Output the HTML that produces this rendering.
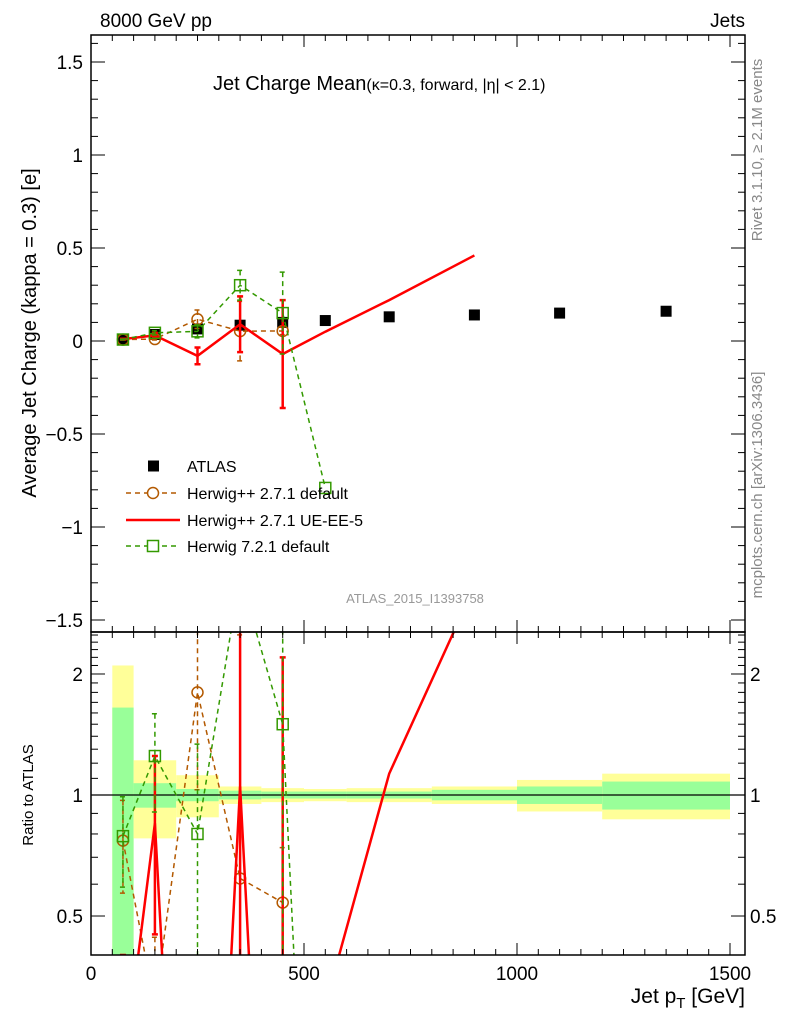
<!DOCTYPE html>
<html><head><meta charset="utf-8"><style>
body{margin:0;background:#fff;overflow:hidden;}
svg{display:block;}
svg text{font-family:"Liberation Sans",sans-serif;}
</style></head><body>
<svg id="c" width="786" height="1024" viewBox="0 0 786 1024" xmlns="http://www.w3.org/2000/svg">
<defs>
<clipPath id="cm"><rect x="91" y="35" width="654" height="597"/></clipPath>
<clipPath id="cr"><rect x="91" y="632" width="654" height="323"/></clipPath>
</defs>
<text x="100" y="27" font-size="19">8000 GeV pp</text>
<text x="745" y="27" font-size="19" text-anchor="end">Jets</text>
<text x="213" y="90" font-size="20">Jet Charge Mean<tspan font-size="16">(κ=0.3, forward, |η| &lt; 2.1)</tspan></text>
<text transform="translate(36,333) rotate(-90)" font-size="20" text-anchor="middle">Average Jet Charge (kappa = 0.3) [e]</text>
<text transform="translate(33,795) rotate(-90)" font-size="15" text-anchor="middle">Ratio to ATLAS</text>
<text transform="translate(762,150) rotate(-90)" font-size="15" fill="#888" text-anchor="middle">Rivet 3.1.10, ≥ 2.1M events</text>
<text transform="translate(762,485) rotate(-90)" font-size="15" fill="#888" text-anchor="middle">mcplots.cern.ch [arXiv:1306.3436]</text>
<text x="415" y="603" font-size="13" fill="#999" text-anchor="middle">ATLAS_2015_I1393758</text>
<text x="745" y="1003" font-size="21" text-anchor="end">Jet p<tspan font-size="15" dy="5">T</tspan><tspan dy="-5"> [GeV]</tspan></text>
<g id="g"></g>
</svg>
<script>
const xs=[75,150,250,350,450,550,700,900,1100,1350];
const edges=[50,100,200,300,400,500,600,800,1000,1200,1500];
const atlas=[0.010,0.035,0.065,0.085,0.100,0.110,0.130,0.140,0.150,0.160];
const bandG=[0.65,0.07,0.035,0.025,0.02,0.02,0.02,0.03,0.05,0.08];
const bandY=[1.1,0.22,0.12,0.05,0.04,0.035,0.04,0.05,0.09,0.13];
const hppX=[75,150,250,350,450];
const hpp=[0.0076,0.0105,0.117,0.053,0.054];
const hppErr=[0.002,0.005,0.05,0.16,0.02];
const hppR=[0.77,0.3,1.8,0.62,0.54];
const ueX=[75,150,250,350,450,550,700,900];
const ue=[0.010,0.030,-0.080,0.090,-0.070,0.050,0.220,0.460];
const ueErr=[0.002,0.014,0.045,0.15,0.29,0,0,0];
const ueR=[0.2,0.85,-1,1.05,-0.7,0.3,1.13,3.3];
const h7X=[75,150,250,350,450,550];
const h7=[0.0078,0.044,0.052,0.30,0.15,-0.79];
const h7Err=[0.002,0.012,0.035,0.08,0.22,0];
const h7R=[0.79,1.25,0.8,3.5,1.5,-1];
const yTicks=[-1.5,-1,-0.5,0,0.5,1,1.5];
const yTickLabels=["−1.5","−1","−0.5","0","0.5","1","1.5"];
const rTicks=[0.5,1,2];
const xTicks=[0,500,1000,1500];

const X=v=>91+v*0.426;
const Y=v=>341-v*186;
const R=v=>795-Math.log10(Math.max(v,0.01))*402;
const svg=document.getElementById('g');
const NS='http://www.w3.org/2000/svg';
function mk(t,a,p){const e=document.createElementNS(NS,t);for(const k in a)e.setAttribute(k,a[k]);(p||svg).appendChild(e);return e;}

const bandsG=mk('g',{'clip-path':'url(#cr)'});


for(let i=0;i<xs.length;i++){
  const x0=X(edges[i]),x1=X(edges[i+1]);
  const y=mk('rect',{x:x0,y:R(1+bandY[i]),width:x1-x0,height:R(Math.max(1-bandY[i],0.01))-R(1+bandY[i]),fill:'#ffff99'},bandsG);
  
  
  const g=mk('rect',{x:x0,y:R(1+bandG[i]),width:x1-x0,height:R(Math.max(1-bandG[i],0.01))-R(1+bandG[i]),fill:'#99ff99'},bandsG);
  
  
}
const ref=mk('line',{x1:91,x2:745,y1:R(1),y2:R(1),stroke:'#000','stroke-width':1.2});



function series(xa,ya,err,color,dash,sw,marker,name,isRatio){
  const g=mk('g',{'clip-path':isRatio?'url(#cr)':'url(#cm)'});
  
  
  const f=isRatio?R:Y;
  const errS=isRatio?err.map((e,i)=>e/atlas[xs.indexOf(xa[i])]):err;
  let d='';ya.forEach((v,i)=>{d+=(i?'L':'M')+X(xa[i])+' '+f(v);});
  const pa=mk('path',{d:d,fill:'none',stroke:color,'stroke-width':sw,'stroke-dasharray':dash},g);
  
  
  ya.forEach((v,i)=>{
    if(errS[i]>0){
      const yt=f(v+errS[i]),yb=f(v-errS[i]),x=X(xa[i]);
      const e=mk('path',{d:`M${x} ${yt}L${x} ${yb}M${x-3} ${yt}L${x+3} ${yt}M${x-3} ${yb}L${x+3} ${yb}`,stroke:color,'stroke-width':sw,'stroke-dasharray':dash,fill:'none'},g);
      
      
    }
    const x=X(xa[i]),y=f(v);
    if(marker==='circle'){const m=mk('circle',{cx:x,cy:y,r:5.5,fill:'none',stroke:color,'stroke-width':1.5},g);
      
      }
    if(marker==='square'){const m=mk('rect',{x:x-5.5,y:y-5.5,width:11,height:11,fill:'none',stroke:color,'stroke-width':1.5},g);
      
      }
  });
}
const ag=mk('g',{'clip-path':'url(#cm)'});


atlas.forEach((v,i)=>{const r=mk('rect',{x:X(xs[i])-5.5,y:Y(v)-5.5,width:11,height:11,fill:'#000'},ag);
  
  });
series(hppX,hpp,hppErr,'#b35900','5,4',1.5,'circle','herwigpp-default',false);
series(ueX,ue,ueErr,'#ff0000','',2.5,null,'herwigpp-ue-ee-5',false);
series(h7X,h7,h7Err,'#339900','5,4',1.5,'square','herwig7-default',false);
series(hppX,hppR,hppErr,'#b35900','5,4',1.5,'circle','herwigpp-default-ratio',true);
series(ueX,ueR,ueErr,'#ff0000','',2.5,null,'herwigpp-ue-ee-5-ratio',true);
series(h7X,h7R,h7Err,'#339900','5,4',1.5,'square','herwig7-default-ratio',true);

[[35,597],[632,323]].forEach(([y,h])=>{const f=mk('rect',{x:91,y:y,width:654,height:h,fill:'none',stroke:'#000','stroke-width':1.5});
  
  });
for(let v=0;v<=1500;v+=50){const L=v%500===0?12:6;const x=X(v);
  [[35,1],[632,-1],[632,1],[955,-1]].forEach(([y,s])=>{const t=mk('line',{x1:x,x2:x,y1:y,y2:y+s*L,stroke:'#000','stroke-width':1});
  
  });}
xTicks.forEach(v=>{const t=mk('text',{x:X(v),y:980,'font-size':19,'text-anchor':'middle'});t.textContent=v;
  
  });
for(let k=-15;k<=16;k++){const v=k/10,y=Y(v);const L=k%5===0?14:7;
  [[91,1],[745,-1]].forEach(([x,s])=>{const t=mk('line',{x1:x,x2:x+s*L,y1:y,y2:y,stroke:'#000'});
  
  });}
yTicks.forEach((v,i)=>{const t=mk('text',{x:83,y:Y(v)+7,'font-size':19,'text-anchor':'end'});t.textContent=yTickLabels[i];
  
  });
[0.5,0.6,0.7,0.8,0.9,1,1.1,1.2,1.3,1.4,1.5,1.6,1.7,1.8,1.9,2,2.1,2.2,2.3,2.4,2.5].forEach(v=>{const y=R(v);const L=rTicks.includes(v)?14:7;
  [[91,1],[745,-1]].forEach(([x,s])=>{const t=mk('line',{x1:x,x2:x+s*L,y1:y,y2:y,stroke:'#000'});
  
  });});
rTicks.forEach(v=>{[[83,'end'],[750,'start']].forEach(([x,a])=>{const t=mk('text',{x:x,y:R(v)+7,'font-size':19,'text-anchor':a});t.textContent=v;
  
  });});
const lg=mk('g',{});


const leg=[['ATLAS',466],['Herwig++ 2.7.1 default',493],['Herwig++ 2.7.1 UE-EE-5',520],['Herwig 7.2.1 default',546]];
leg.forEach(([s,y],i)=>{
  if(i===0)mk('rect',{x:148,y:y-5.5,width:11,height:11,fill:'#000'},lg);
  if(i===1){mk('line',{x1:126,x2:180,y1:y,y2:y,stroke:'#b35900','stroke-width':1.5,'stroke-dasharray':'5,4'},lg);mk('circle',{cx:153,cy:y,r:5.5,fill:'#fff',stroke:'#b35900','stroke-width':1.5},lg);}
  if(i===2)mk('line',{x1:126,x2:180,y1:y,y2:y,stroke:'#f00','stroke-width':2.5},lg);
  if(i===3){mk('line',{x1:126,x2:180,y1:y,y2:y,stroke:'#339900','stroke-width':1.5,'stroke-dasharray':'5,4'},lg);mk('rect',{x:147.5,y:y-5.5,width:11,height:11,fill:'#fff',stroke:'#339900','stroke-width':1.5},lg);}
  const t=mk('text',{x:187,y:y+6,'font-size':16},lg);t.textContent=s;
  
  
});
</script>
</body></html>
